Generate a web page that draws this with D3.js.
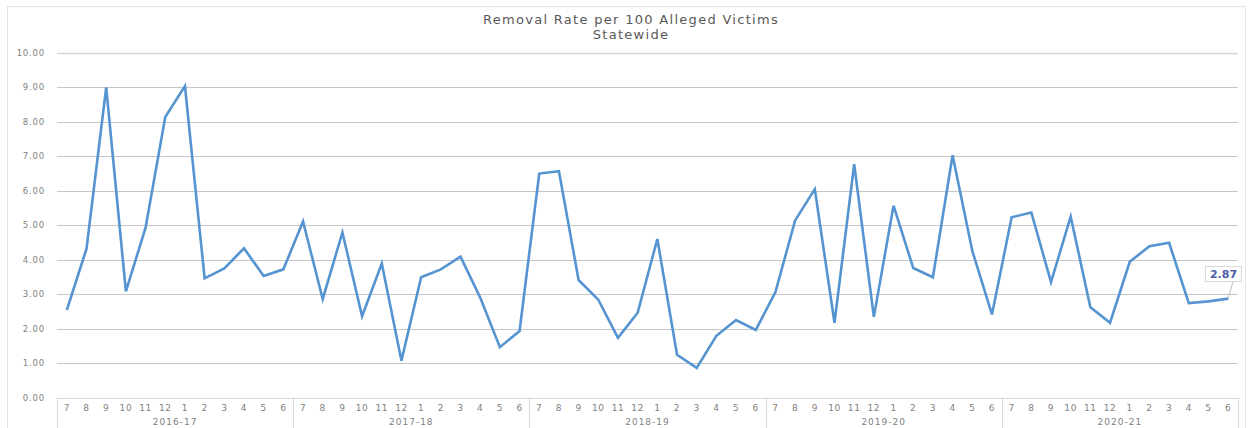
<!DOCTYPE html>
<html>
<head>
<meta charset="utf-8">
<script src="https://cdn.jsdelivr.net/npm/d3@7"></script>
<style>
  body { margin: 0; background: #fff; }
  svg text { font-family: "DejaVu Sans", "Open Sans", sans-serif; }
</style>
</head>
<body>
<div id="chart"></div>
<script>
// fiscal years and months
var years = ["2016-17", "2017-18", "2018-19", "2019-20", "2020-21"];
var months = ["7", "8", "9", "10", "11", "12", "1", "2", "3", "4", "5", "6"];

// removal rate per 100 alleged victims, one array per fiscal year
var fy1617 = [2.54, 4.32, 9.00, 3.08, 4.93, 8.14, 9.04, 3.46, 3.75, 4.33, 3.53, 3.72];
var fy1718 = [5.11, 2.86, 4.79, 2.36, 3.89, 1.07, 3.49, 3.72, 4.09, 2.90, 1.46, 1.93];
var fy1819 = [6.50, 6.57, 3.41, 2.84, 1.73, 2.46, 4.60, 1.24, 0.86, 1.79, 2.25, 1.96];
var fy1920 = [3.06, 5.14, 6.05, 2.17, 6.77, 2.34, 5.57, 3.76, 3.49, 7.03, 4.26, 2.41];
var fy2021 = [5.23, 5.37, 3.35, 5.25, 2.62, 2.17, 3.94, 4.39, 4.49, 2.74, 2.79, 2.87];

var yTicks = [0, 1, 2, 3, 4, 5, 6, 7, 8, 9, 10];

var series = [fy1617, fy1718, fy1819, fy1920, fy2021];
var data = [];
series.forEach(function(arr, yi) {
    arr.forEach(function(v, mi) {
        data.push({ key: yi + "-" + mi, year: years[yi], month: months[mi], value: v });
    });
});

var width = 1248, height = 428;
var plotLeft = 57, plotRight = 1238, plotTop = 53, plotBottom = 397.5;

var svg = d3.select("#chart").append("svg")
    .attr("width", width)
    .attr("height", height);

// chart border
svg.append("rect")
    .attr("x", 7.5).attr("y", 6.5)
    .attr("width", 1238).attr("height", 430)
    .attr("fill", "none")
    .attr("stroke", "#e3e3e3");

var x = d3.scaleBand()
    .domain(data.map(d => d.key))
    .range([plotLeft, plotRight]);

var y = d3.scaleLinear()
    .domain([0, 10])
    .range([plotBottom, plotTop]);

// gridlines
svg.append("g")
    .selectAll("line")
    .data(yTicks.filter(d => d > 0))
    .enter()
    .append("line")
    .attr("x1", plotLeft)
    .attr("x2", plotRight)
    .attr("y1", d => Math.round(y(d)) + 0.5)
    .attr("y2", d => Math.round(y(d)) + 0.5)
    .attr("stroke", d => d === 10 ? "#d6d6d6" : "#c6c6c6")
    .attr("stroke-width", d => d === 10 ? 1.6 : 1);

// y labels
svg.append("g")
    .selectAll("text")
    .data(yTicks)
    .enter()
    .append("text")
    .attr("x", 45)
    .attr("y", d => y(d) + 3)
    .attr("text-anchor", "end")
    .attr("font-size", 8.5)
    .attr("letter-spacing", 0.8)
    .attr("fill", "#7f7f7f")
    .text(d => d3.format(".2f")(d));

// category axis box
svg.append("line")
    .attr("x1", plotLeft).attr("x2", plotRight)
    .attr("y1", Math.round(plotBottom) + 0.5).attr("y2", Math.round(plotBottom) + 0.5)
    .attr("stroke", "#d9d9d9");

var yearX = d3.scaleBand().domain(years).range([plotLeft, plotRight]);

svg.append("g")
    .selectAll("line")
    .data(years.concat(["end"]))
    .enter()
    .append("line")
    .attr("x1", (d, i) => Math.round(plotLeft + i * yearX.bandwidth()) + 0.5)
    .attr("x2", (d, i) => Math.round(plotLeft + i * yearX.bandwidth()) + 0.5)
    .attr("y1", plotBottom)
    .attr("y2", height)
    .attr("stroke", "#d9d9d9");

svg.append("g")
    .selectAll("text")
    .data(data)
    .enter()
    .append("text")
    .attr("x", d => x(d.key) + x.bandwidth() / 2)
    .attr("y", 411)
    .attr("text-anchor", "middle")
    .attr("font-size", 9)
    .attr("letter-spacing", 0.6)
    .attr("fill", "#7f7f7f")
    .text(d => d.month);

svg.append("g")
    .selectAll("text")
    .data(years)
    .enter()
    .append("text")
    .attr("x", d => yearX(d) + yearX.bandwidth() / 2)
    .attr("y", 425)
    .attr("text-anchor", "middle")
    .attr("font-size", 9)
    .attr("letter-spacing", 1)
    .attr("fill", "#7f7f7f")
    .text(d => d);

// line
var line = d3.line()
    .x(d => x(d.key) + x.bandwidth() / 2)
    .y(d => y(d.value));

svg.append("path")
    .datum(data)
    .attr("d", line)
    .attr("fill", "none")
    .attr("stroke", "#5594d0")
    .attr("stroke-width", 2.6)
    .attr("stroke-linejoin", "miter");

// title
svg.append("text")
    .attr("x", 631).attr("y", 24)
    .attr("text-anchor", "middle")
    .attr("font-size", 13)
    .attr("letter-spacing", 1.3)
    .attr("fill", "#595959")
    .text("Removal Rate per 100 Alleged Victims");

svg.append("text")
    .attr("x", 631).attr("y", 39)
    .attr("text-anchor", "middle")
    .attr("font-size", 13)
    .attr("letter-spacing", 1.3)
    .attr("fill", "#595959")
    .text("Statewide");

// data label for last point
var last = data[data.length - 1];
var lx = x(last.key) + x.bandwidth() / 2;
var ly = y(last.value);

svg.append("line")
    .attr("x1", lx).attr("y1", ly)
    .attr("x2", lx + 5).attr("y2", 281)
    .attr("stroke", "#bfbfbf");

svg.append("rect")
    .attr("x", 1205.5).attr("y", 266.5)
    .attr("width", 36).attr("height", 15)
    .attr("fill", "#fff")
    .attr("stroke", "#d9d9d9");

svg.append("text")
    .attr("x", 1223.5).attr("y", 278)
    .attr("text-anchor", "middle")
    .attr("font-size", 11)
    .attr("font-weight", "bold")
    .attr("fill", "#4a5ba8")
    .text(d3.format(".2f")(last.value));
</script>
</body>
</html>
